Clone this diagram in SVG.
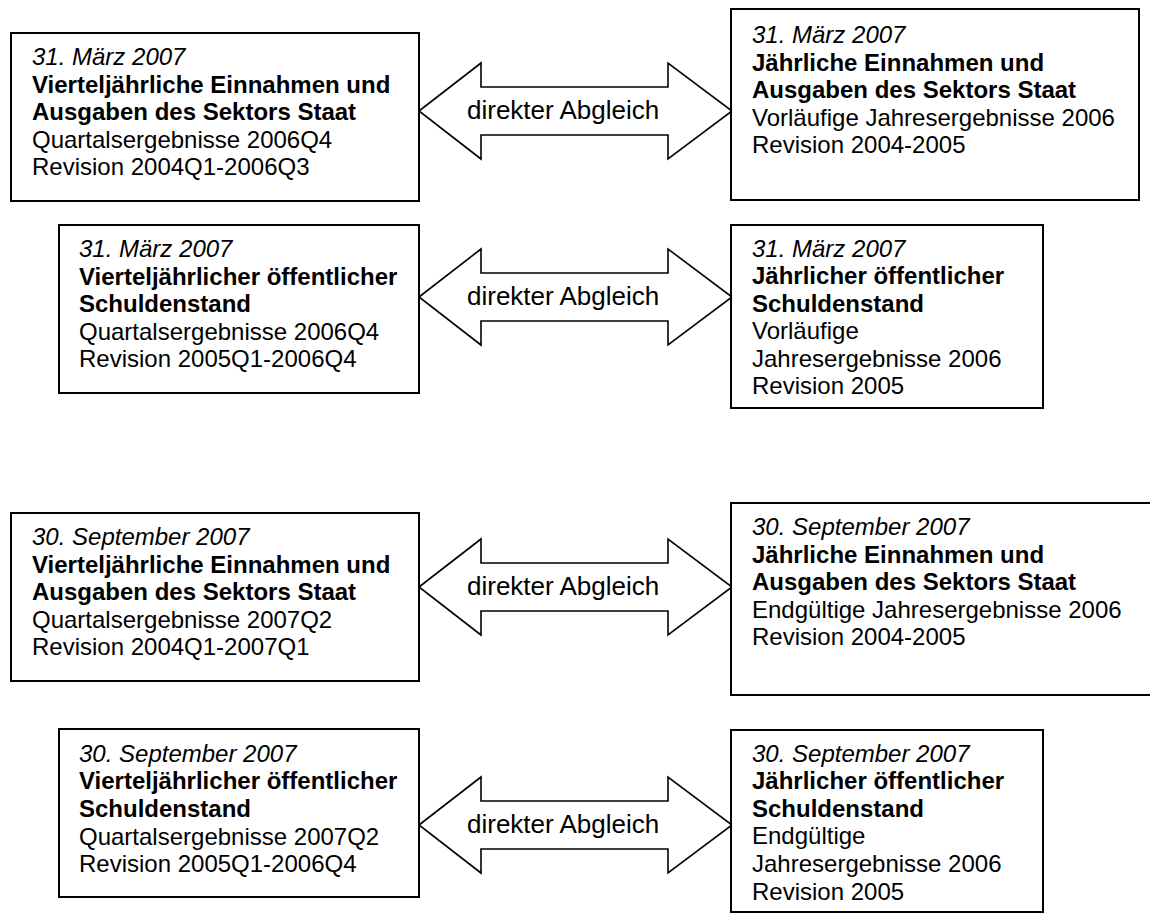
<svg xmlns="http://www.w3.org/2000/svg" width="1150" height="916" viewBox="0 0 1150 916">
<style>
.box{fill:#fff;stroke:#000;stroke-width:2}
.arr{fill:#fff;stroke:#000;stroke-width:1.6;stroke-linejoin:miter}
text{font-family:"Liberation Sans",Arial,sans-serif;font-size:24px;fill:#000}
.i{font-style:italic}
.b{font-weight:bold}
.lbl{font-size:26px}
</style>
<rect width="1150" height="916" fill="#fff"/>
<g id="connectors">
<path class="arr" d="M419,111 L481,63 L481,87 L668,87 L668,63 L732,111 L668,159 L668,135 L481,135 L481,159 Z"/>
<text class="lbl" x="467" y="119">direkter Abgleich</text>
<path class="arr" d="M419,297 L481,249 L481,273 L668,273 L668,249 L732,297 L668,345 L668,321 L481,321 L481,345 Z"/>
<text class="lbl" x="467" y="305">direkter Abgleich</text>
<path class="arr" d="M419,587 L481,539 L481,563 L668,563 L668,539 L732,587 L668,635 L668,611 L481,611 L481,635 Z"/>
<text class="lbl" x="467" y="595">direkter Abgleich</text>
<path class="arr" d="M419,825 L481,777 L481,801 L668,801 L668,777 L732,825 L668,873 L668,849 L481,849 L481,873 Z"/>
<text class="lbl" x="467" y="833">direkter Abgleich</text>
</g>
<g id="box1">
<rect class="box" x="11" y="33" width="408" height="168"/>
<text class="i" x="32" y="65">31. März 2007</text>
<text class="b" x="32" y="93">Vierteljährliche Einnahmen und</text>
<text class="b" x="32" y="120">Ausgaben des Sektors Staat</text>
<text x="32" y="148">Quartalsergebnisse 2006Q4</text>
<text x="32" y="175">Revision 2004Q1-2006Q3</text>
</g>
<g id="box2">
<rect class="box" x="731" y="9" width="408" height="191"/>
<text class="i" x="752" y="43">31. März 2007</text>
<text class="b" x="752" y="71">Jährliche Einnahmen und</text>
<text class="b" x="752" y="98">Ausgaben des Sektors Staat</text>
<text x="752" y="126">Vorläufige Jahresergebnisse 2006</text>
<text x="752" y="153">Revision 2004-2005</text>
</g>
<g id="box3">
<rect class="box" x="59" y="225" width="360" height="168"/>
<text class="i" x="79" y="257">31. März 2007</text>
<text class="b" x="79" y="285">Vierteljährlicher öffentlicher</text>
<text class="b" x="79" y="312">Schuldenstand</text>
<text x="79" y="340">Quartalsergebnisse 2006Q4</text>
<text x="79" y="367">Revision 2005Q1-2006Q4</text>
</g>
<g id="box4">
<rect class="box" x="731" y="225" width="312" height="183"/>
<text class="i" x="752" y="257">31. März 2007</text>
<text class="b" x="752" y="284">Jährlicher öffentlicher</text>
<text class="b" x="752" y="312">Schuldenstand</text>
<text x="752" y="339">Vorläufige</text>
<text x="752" y="367">Jahresergebnisse 2006</text>
<text x="752" y="394">Revision 2005</text>
</g>
<g id="box5">
<rect class="box" x="11" y="513" width="408" height="168"/>
<text class="i" x="32" y="545">30. September 2007</text>
<text class="b" x="32" y="573">Vierteljährliche Einnahmen und</text>
<text class="b" x="32" y="600">Ausgaben des Sektors Staat</text>
<text x="32" y="628">Quartalsergebnisse 2007Q2</text>
<text x="32" y="655">Revision 2004Q1-2007Q1</text>
</g>
<g id="box6">
<rect class="box" x="731" y="503" width="440" height="192"/>
<text class="i" x="752" y="535">30. September 2007</text>
<text class="b" x="752" y="563">Jährliche Einnahmen und</text>
<text class="b" x="752" y="590">Ausgaben des Sektors Staat</text>
<text x="752" y="618">Endgültige Jahresergebnisse 2006</text>
<text x="752" y="645">Revision 2004-2005</text>
</g>
<g id="box7">
<rect class="box" x="59" y="729" width="360" height="168"/>
<text class="i" x="79" y="762">30. September 2007</text>
<text class="b" x="79" y="789">Vierteljährlicher öffentlicher</text>
<text class="b" x="79" y="817">Schuldenstand</text>
<text x="79" y="845">Quartalsergebnisse 2007Q2</text>
<text x="79" y="872">Revision 2005Q1-2006Q4</text>
</g>
<g id="box8">
<rect class="box" x="731" y="730" width="312" height="182"/>
<text class="i" x="752" y="762">30. September 2007</text>
<text class="b" x="752" y="789">Jährlicher öffentlicher</text>
<text class="b" x="752" y="817">Schuldenstand</text>
<text x="752" y="844">Endgültige</text>
<text x="752" y="872">Jahresergebnisse 2006</text>
<text x="752" y="900">Revision 2005</text>
</g>
</svg>
